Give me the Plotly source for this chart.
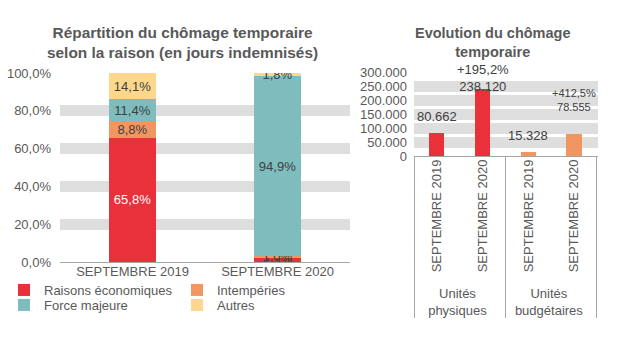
import plotly.graph_objects as go

W, H = 622, 352

# ---- data: left chart (percent of indemnified days) ----
periods = ["SEPTEMBRE 2019", "SEPTEMBRE 2020"]
raisons_eco = [65.8, 2.3]
intemperies = [8.8, 1.0]
force_majeure = [11.4, 94.9]
autres = [14.1, 1.8]

# ---- data: right chart ----
groups = ["Unités<br>physiques", "Unités<br>physiques", "Unités<br>budgétaires", "Unités<br>budgétaires"]
months = ["SEPTEMBRE 2019", "SEPTEMBRE 2020", "SEPTEMBRE 2019", "SEPTEMBRE 2020"]
evol_values = [80662, 238120, 15328, 78555]
evol_labels = ["80.662", "+195,2%<br>238.120", "15.328", "+412,5%<br>78.555"]

RED = "#E8313A"
ORANGE = "#F19660"
TEAL = "#7FBCBD"
YELLOW = "#FDD78C"
GRID = "#DEDEDE"
TXT = "#595959"
FONT = "Liberation Sans, Arial, sans-serif"

def px(x):
    return x / W

def py(y):
    return 1 - y / H

fig = go.Figure()

series = [
    ("Raisons économiques", raisons_eco, RED, ["white", "#404040"], "legend", (4, 275)),
    ("Intempéries", intemperies, ORANGE, ["#404040", "#404040"], "legend2", (177, 275)),
    ("Force majeure", force_majeure, TEAL, ["#404040", "#404040"], "legend3", (4, 290)),
    ("Autres", autres, YELLOW, ["#404040", "#404040"], "legend4", (177, 290)),
]
legend_layout = {}
for name, vals, col, tcols, leg, pos in series:
    fig.add_trace(go.Bar(
        x=periods, y=vals, name=name, marker=dict(color=col, line=dict(width=0)),
        width=0.32, texttemplate="%{y:.1f}%", textposition="inside",
        insidetextanchor="middle", textangle=0, constraintext="none",
        textfont=dict(color=tcols, size=13, family=FONT),
        xaxis="x", yaxis="y", hoverinfo="skip", legend=leg,
    ))
    legend_layout[leg] = dict(
        orientation="h", x=px(pos[0]), y=py(pos[1]), xanchor="left", yanchor="top",
        itemwidth=30, font=dict(size=13, color=TXT, family=FONT),
        bgcolor="rgba(0,0,0,0)", borderwidth=0,
    )

fig.add_trace(go.Bar(
    x=[groups, months], y=evol_values,
    marker=dict(color=[RED, RED, ORANGE, ORANGE], line=dict(width=0)),
    width=0.33, showlegend=False, xaxis="x2", yaxis="y2", hoverinfo="skip",
))

shifts = [7, -7, 7, 19]
sizes = [13, 13, 13, 11]
for i, (v, lab) in enumerate(zip(evol_values, evol_labels)):
    fig.add_annotation(
        x=i, y=v, xref="x2", yref="y2", text=lab, showarrow=False,
        yanchor="bottom", yshift=shifts[i],
        font=dict(size=sizes[i], color="#404040", family=FONT),
    )

fig.add_annotation(
    x=px(182), y=py(42), xref="paper", yref="paper", showarrow=False,
    text="<b>Répartition du chômage temporaire<br>selon la raison (en jours indemnisés)</b>",
    font=dict(size=15.4, color=TXT, family=FONT), xanchor="center", yanchor="middle",
)
fig.add_annotation(
    x=px(492), y=py(42), xref="paper", yref="paper", showarrow=False,
    text="<b>Evolution du chômage<br>temporaire</b>",
    font=dict(size=14.5, color=TXT, family=FONT), xanchor="center", yanchor="middle",
)

fig.update_layout(
    width=W, height=H, margin=dict(l=0, r=0, t=0, b=0, autoexpand=False),
    paper_bgcolor="white", plot_bgcolor="white",
    barmode="stack", separators=",.",
    font=dict(family=FONT, color=TXT, size=13),
    uniformtext=dict(minsize=13, mode="show"),
    xaxis=dict(domain=[px(60), px(350)], showgrid=False, showline=False, ticks="",
               tickfont=dict(size=13, color=TXT), anchor="y", automargin=False),
    yaxis=dict(domain=[py(262), py(73)], range=[0, 100], dtick=20,
               tickformat=".1f", ticksuffix="%", showgrid=True, gridcolor=GRID,
               gridwidth=11, zeroline=True, zerolinecolor="#A6A6A6", zerolinewidth=1,
               tickfont=dict(size=13, color=TXT), anchor="x", ticks="",
               ticklabelstandoff=8, automargin=False),
    xaxis2=dict(domain=[px(414), px(598)], type="multicategory", tickangle=-90,
                showgrid=False, showline=False, ticks="", showdividers=True,
                dividercolor="#A6A6A6", dividerwidth=1,
                tickfont=dict(size=13, color=TXT), anchor="y2", automargin=False),
    yaxis2=dict(domain=[py(156), py(72)], range=[0, 300000], dtick=50000,
                tickformat=",d", showgrid=True, gridcolor=GRID, gridwidth=11,
                zeroline=True, zerolinecolor="#A6A6A6", zerolinewidth=1,
                tickfont=dict(size=13, color=TXT), anchor="x2", ticks="",
                ticklabelstandoff=6, automargin=False),
    **legend_layout,
)

fig.write_html("out.html")
